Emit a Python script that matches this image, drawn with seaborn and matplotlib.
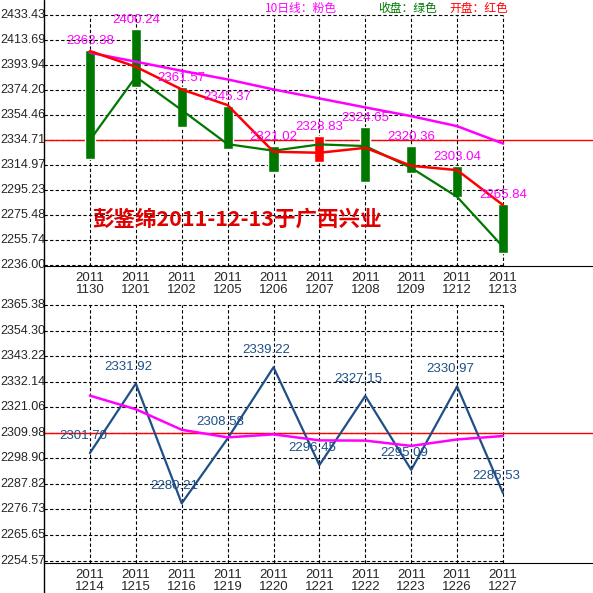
import matplotlib
matplotlib.use("Agg")
import matplotlib.pyplot as plt
import seaborn as sns
import pandas as pd
import numpy as np
from matplotlib.lines import Line2D

sns.set_style("white")
plt.rcParams['font.family'] = ['Liberation Sans', 'Noto Sans CJK SC', 'DejaVu Sans']

dates1 = ["1130", "1201", "1202", "1205", "1206", "1207", "1208", "1209", "1212", "1213"]
bar_high = [2405.8, 2422.1, 2376.3, 2361.5, 2330.0, 2337.9, 2345.2, 2330.0, 2314.2, 2284.1]
bar_low = [2319.5, 2376.3, 2344.7, 2327.3, 2309.7, 2317.6, 2301.8, 2308.9, 2289.9, 2245.2]
bar_up = [False, False, False, False, False, True, False, False, False, False]
open1 = [2405.0, 2392.6, 2374.7, 2362.3, 2325.5, 2324.7, 2328.6, 2314.4, 2311.0, 2283.4]
close1 = [2334.7, 2384.7, 2358.4, 2331.5, 2326.3, 2331.3, 2330.0, 2312.8, 2289.9, 2250.4]
ma1 = [2403.7, 2396.6, 2389.4, 2382.6, 2374.7, 2367.6, 2360.5, 2353.6, 2345.7, 2332.0]
labels1 = ["2363.38", "2400.24", "2361.57", "2345.37", "2321.02", "2328.83", "2324.65", "2320.36", "2303.04", "2265.84"]
yticks1 = [2433.43, 2413.69, 2393.94, 2374.20, 2354.46, 2334.71, 2314.97, 2295.23, 2275.48, 2255.74, 2236.00]
ref1 = 2334.71

dates2 = ["1214", "1215", "1216", "1219", "1220", "1221", "1222", "1223", "1226", "1227"]
val2 = [2301.2, 2331.3, 2279.4, 2307.5, 2338.4, 2296.0, 2326.0, 2293.9, 2330.1, 2283.8]
ma2 = [2326.1, 2320.2, 2311.3, 2308.0, 2309.3, 2306.7, 2306.6, 2304.3, 2307.1, 2308.6]
labels2 = ["2301.70", "2331.92", "2280.21", "2308.58", "2339.22", "2296.45", "2327.15", "2295.09", "2330.97", "2285.53"]
yticks2 = [2365.38, 2354.30, 2343.22, 2332.14, 2321.06, 2309.98, 2298.90, 2287.82, 2276.73, 2265.65, 2254.57]
ref2 = 2309.98

W = 593
fig = plt.figure(figsize=(5.93, 5.93), dpi=100)
ax1 = fig.add_axes([44/W, (W-266)/W, (W-44)/W, 266/W])
ax2 = fig.add_axes([44/W, 29.7/W, (W-44)/W, 270.3/W])

MAG = "#ff00ff"
GRN = "#007800"
BLUE = "#1f4f86"

def setup(ax, dates, yticks, ylim, ref):
    n = len(dates)
    x = np.arange(n)
    ax.set_xlim(-1, 10.96)
    ax.set_ylim(*ylim)
    for s in ["top", "right", "left"]:
        ax.spines[s].set_visible(False)
    ax.spines["bottom"].set_color("black")
    ax.hlines(yticks, -1, n-1, colors="black", linestyles=(0, (3, 2)), lw=0.8, zorder=0)
    ax.vlines(x, ylim[0], yticks[0], colors="black", linestyles=(0, (3, 2)), lw=0.8, zorder=0)
    ax.axhline(ref, color="red", lw=1, zorder=1)
    ax.set_xticks(x)
    ax.set_xticklabels(["2011\n" + d for d in dates], fontsize=9.5, linespacing=1.0)
    ax.tick_params(axis="x", length=0, pad=4)
    ax.set_yticks([])
    for v in yticks:
        ax.text(-1.95, v, f"{v:.2f}", fontsize=9, ha="left", va="center",
                transform=ax.transData, clip_on=False)

setup(ax1, dates1, yticks1, (2235.3, 2445.3), ref1)
setup(ax2, dates2, yticks2, (2253.4, 2370.6), ref2)

x1 = np.arange(len(dates1))
colors = ["red" if u else GRN for u in bar_up]
ax1.bar(x1, np.array(bar_high) - np.array(bar_low), bottom=bar_low, width=0.22,
        color=colors, zorder=2)
df1 = pd.DataFrame({"x": x1, "open": open1, "close": close1, "ma": ma1})
sns.lineplot(data=df1, x="x", y="close", ax=ax1, color=GRN, lw=1.6, zorder=3)
sns.lineplot(data=df1, x="x", y="open", ax=ax1, color="red", lw=1.8, zorder=4)
sns.lineplot(data=df1, x="x", y="ma", ax=ax1, color=MAG, lw=1.8, zorder=3)
for xi, hi, lab in zip(x1, bar_high, labels1):
    ax1.annotate(lab, (xi, hi), xytext=(0, 9), textcoords="offset pixels",
                 ha="center", va="center", fontsize=9.5, color=MAG, zorder=5,
                 annotation_clip=False)
ax1.set_xlabel(""); ax1.set_ylabel("")
ax1.text(0.05, 2272, "彭鉴绵2011-12-13于广西兴业", color="#e00000", fontsize=15.5,
         fontweight="bold", family=["Noto Sans CJK SC", "DejaVu Sans"], va="center", ha="left")

fs = 8.5
fig.text(265/W, 1-8/W, "10日线：粉色", color=MAG, fontsize=fs, va="center", family=["Noto Sans CJK SC"])
fig.text(378/W, 1-8/W, "收盘：绿色", color=GRN, fontsize=fs, va="center", family=["Noto Sans CJK SC"])
fig.text(449/W, 1-8/W, "开盘：红色", color="red", fontsize=fs, va="center", family=["Noto Sans CJK SC"])

x2 = np.arange(len(dates2))
df2 = pd.DataFrame({"x": x2, "v": val2, "ma": ma2})
sns.lineplot(data=df2, x="x", y="v", ax=ax2, color=BLUE, lw=1.6, zorder=3)
sns.lineplot(data=df2, x="x", y="ma", ax=ax2, color=MAG, lw=1.8, zorder=3)
for xi, v, lab in zip(x2, val2, labels2):
    ax2.annotate(lab, (xi, v), xytext=(-7, 17), textcoords="offset pixels",
                 ha="center", va="center", fontsize=9.5, color=BLUE, zorder=5,
                 annotation_clip=False)
ax2.set_xlabel(""); ax2.set_ylabel("")

fig.add_artist(Line2D([44/W, 44/W], [0, 1], color="black", lw=1, transform=fig.transFigure))
fig.savefig("out.png", dpi=100, facecolor="white")
